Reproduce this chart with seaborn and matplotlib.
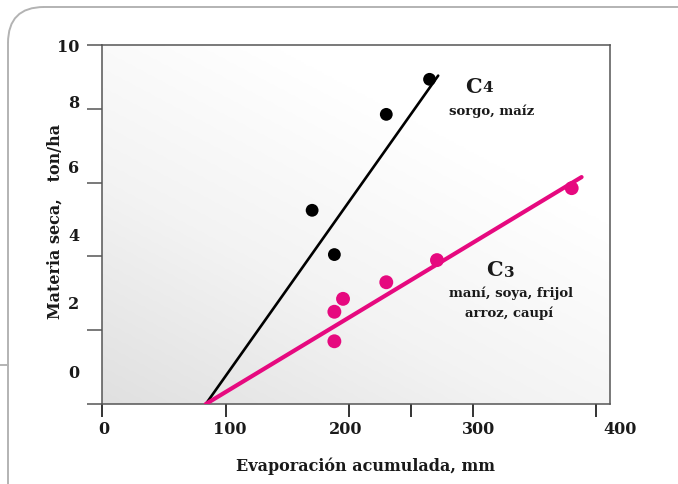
import numpy as np
import matplotlib
matplotlib.use("Agg")
import matplotlib.pyplot as plt
import matplotlib.transforms as mtrans
from matplotlib.patches import FancyBboxPatch
from matplotlib.colors import LinearSegmentedColormap
from matplotlib.lines import Line2D
import seaborn as sns
import pandas as pd

# ---- data ----
c4_x = [170, 188, 230, 265]
c4_y = [5.25, 4.05, 7.85, 8.8]
c3_x = [188, 188, 195, 230, 271, 380]
c3_y = [1.7, 2.5, 2.85, 3.3, 3.9, 5.85]
c4_line_x = [84, 272]
c4_line_y = [0, 8.9]
c3_line_x = [84, 388]
c3_line_y = [0, 6.15]
x_ticks = [0, 100, 200, 300, 400]
x_tick_labels = ["0", "100", "200", "300", "400"]
y_ticks = [0, 2, 4, 6, 8]
y_tick_labels = ["0", "2", "4", "6", "8", "10"]

sns.set_theme(style="ticks")
plt.rcParams['font.family'] = ['DejaVu Serif', 'DejaVu Sans']
plt.rcParams['font.weight'] = 'bold'

PINK = "#e6097f"
TXT = "#1a1a1a"

fig = plt.figure(figsize=(6.78, 4.84), dpi=100)
fig.patch.set_facecolor("white")
W, H = 678, 484
ax = fig.add_axes([102 / W, 1 - 404 / H, (610 - 102) / W, (404 - 45) / H])

XMAX, YMAX = 411, 9.73

# gradient background
gx, gy = np.meshgrid(np.linspace(0, 1, 200), np.linspace(0, 1, 200))
grad = np.clip(0.6 * gx + 0.8 * gy, 0, 1)
cmap = LinearSegmentedColormap.from_list("g", ["#e0e0e0", "#f3f3f3", "#ffffff"])
ax.imshow(grad, extent=(0, 1, 0, 1), transform=ax.transAxes, origin="lower",
          cmap=cmap, aspect="auto", zorder=0, interpolation="bilinear")

df4 = pd.DataFrame({"x": c4_x, "y": c4_y})
df3 = pd.DataFrame({"x": c3_x, "y": c3_y})
l4 = pd.DataFrame({"x": c4_line_x, "y": c4_line_y})
l3 = pd.DataFrame({"x": c3_line_x, "y": c3_line_y})

sns.lineplot(data=l4, x="x", y="y", ax=ax, color="black", lw=1.9, zorder=3)
sns.lineplot(data=l3, x="x", y="y", ax=ax, color=PINK, lw=3.0, zorder=3)
sns.scatterplot(data=df4, x="x", y="y", ax=ax, color="black", s=85, edgecolor="none", zorder=4)
sns.scatterplot(data=df3, x="x", y="y", ax=ax, color=PINK, s=100, edgecolor="none", zorder=4)

ax.set_xlim(0, XMAX)
ax.set_ylim(0, YMAX)
ax.set_xlabel("")
ax.set_ylabel("")

for sp in ax.spines.values():
    sp.set_color("#555555")
    sp.set_linewidth(1.1)
    sp.set_visible(True)

# x ticks
ax.set_xticks(x_ticks)
ax.set_xticks([250], minor=True)
ax.set_xticklabels([])
ax.tick_params(axis="x", which="both", direction="out", length=9, width=1.4, color="#333333")
# y ticks (top tick extends the top spine)
ax.set_yticks(y_ticks + [YMAX])
ax.set_yticklabels([])
ax.tick_params(axis="y", direction="out", length=11, width=1.1, color="#555555")

# tick labels with hand-drawn offsets (pixels)
x_off = [2, 4, -4, 6, 24]
for v, lab, dx in zip(x_ticks, x_tick_labels, x_off):
    tr = mtrans.offset_copy(ax.get_xaxis_transform(), fig=fig, x=dx, y=-26, units="dots")
    ax.text(v, 0, lab, transform=tr, ha="center", va="center", fontsize=11.5,
            fontweight="bold", color=TXT)
y_off = [31, 26, 20, 14, 5, -3]
for v, lab, dy in zip(y_ticks + [YMAX], y_tick_labels, y_off):
    tr = mtrans.offset_copy(ax.get_yaxis_transform(), fig=fig, x=0, y=dy, units="dots")
    ax.text(-0.045, v, lab, transform=tr, ha="right", va="center", fontsize=11.5,
            fontweight="bold", color=TXT)

# axis titles
fig.text(366 / W, 1 - 466 / H, "Evaporación acumulada, mm", ha="center", va="center",
         fontsize=11.5, fontweight="bold", color=TXT)
fig.text(55 / W, 1 - 221 / H, "Materia seca,   ton/ha", ha="center", va="center",
         rotation=90, fontsize=11.5, fontweight="bold", color=TXT)

# annotations
ax.text(307, 8.59, "C", ha="right", va="center", fontsize=15, fontweight="bold", color=TXT)
ax.text(308, 8.57, "4", ha="left", va="center", fontsize=11, fontweight="bold", color=TXT)
ax.text(315, 7.94, "sorgo, maíz", ha="center", va="center", fontsize=9.5, fontweight="bold", color=TXT)
ax.text(324, 3.62, "C", ha="right", va="center", fontsize=15, fontweight="bold", color=TXT)
ax.text(325, 3.55, "3", ha="left", va="center", fontsize=11, fontweight="bold", color=TXT)
ax.text(331, 3.0, "maní, soya, frijol", ha="center", va="center", fontsize=9.5, fontweight="bold", color=TXT)
ax.text(329, 2.47, "arroz, caupí", ha="center", va="center", fontsize=9.5, fontweight="bold", color=TXT)

# rounded panel border (display pixels)
border = FancyBboxPatch((8, -40), 760, 477 + 40, boxstyle="round,pad=0,rounding_size=36",
                        transform=mtrans.IdentityTransform(), facecolor="none",
                        edgecolor="#b3b3b3", linewidth=1.4)
fig.patches.append(border)
fig.lines.append(Line2D([0, 8], [119, 119], transform=mtrans.IdentityTransform(),
                        color="#b3b3b3", linewidth=1.4))

fig.savefig("out.png", dpi=100)
